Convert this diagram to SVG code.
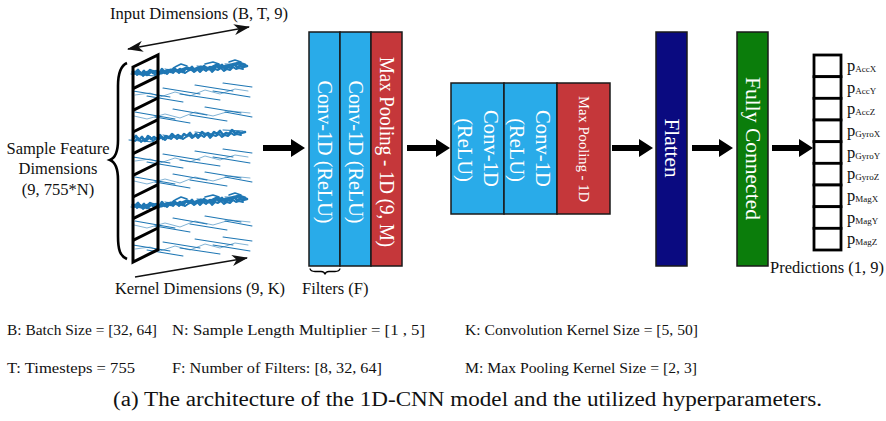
<svg xmlns="http://www.w3.org/2000/svg" xmlns:xlink="http://www.w3.org/1999/xlink" width="886" height="421" viewBox="0 0 886 421">
  <style>
    .lbl { font-family: "Liberation Serif", "DejaVu Serif", serif; fill: #111; }
    .blk { font-family: "Liberation Serif", "DejaVu Serif", serif; fill: #fff; }
    .box { stroke: #1a1a1a; stroke-width: 1.5; }
    .conv { fill: #29abe9; }
    .pool { fill: #c5373a; }
    .sig { fill: none; stroke: #1f77b4; stroke-linecap: round; stroke-linejoin: round; }
    .thin { stroke: #111; stroke-width: 1.5; fill: none; }
    .big { fill: #000; }
    .cell { fill: #fff; stroke: #000; stroke-width: 2.8; }
  </style>
  <defs>
    <marker id="head" viewBox="0 0 16 11" refX="15" refY="5.5" markerWidth="16" markerHeight="11" markerUnits="userSpaceOnUse" orient="auto-start-reverse">
      <path d="M0,0 L16,5.5 L0,11 L4.5,5.5 Z" fill="#111"/>
    </marker>
    <!-- dense sensor trace -->
    <g id="dense" class="sig">
      <path stroke-width="2.6" d="M0,1 L3,-2 L6,2 L9,-1 L12,3 L15,-2 L18,1 L21,-1 L24,2 L27,-3 L30,1 L33,-2 L36,0 L39,-4 L42,-1 L45,-3 L48,0 L51,-4 L54,-2 L57,-5 L60,-1 L63,-4 L66,-2 L69,-6 L72,-3 L75,-5 L78,-2 L81,-6 L84,-4 L87,-7 L90,-3 L93,-5 L96,-4 L99,-8 L102,-5 L105,-6 L108,-5 L112,-6"/>
      <path stroke-width="2" d="M2,3 L5,0 L8,4 L11,1 L14,2 L17,-1 L20,3 L23,0 L26,1 L29,-1 L32,2 L35,-1 L38,1 L41,-2 L44,1 L47,-2 L50,1 L53,-1 L56,-3 L59,0 L62,-3 L65,0 L68,-3 L71,-1 L74,-4 L77,0 L80,-3 L83,-2 L86,-4 L89,-1 L92,-3 L95,-2 L98,-5 L101,-3 L104,-4 L108,-3"/>
      <path stroke-width="1" d="M-4,2 L20,4 M30,-3 L50,1 M62,-6 L80,-4 M90,-8 L110,-7"/>
    </g>
    <!-- heavier variant for the busiest channels -->
    <g id="denseHeavy" class="sig">
      <use xlink:href="#dense"/>
      <path stroke-width="3.2" d="M-2,0 L8,2 L16,-1 L26,1 L36,-2 L44,-1 L52,-4 L58,-2 L66,-5 L74,-3 L82,-7 L88,-5 L96,-7 L104,-9 L110,-7"/>
      <path stroke-width="1.6" d="M40,-5 L46,-8 L52,-6 M70,-8 L78,-10 L84,-8 M94,-10 L100,-12 L106,-10"/>
    </g>
    <!-- sparse sensor traces -->
    <g id="sparseA" class="sig">
      <path stroke-width="1.1" d="M-2,-2 L35,4 M12,3 L48,9 M28,-5 L65,1 M45,1 L85,7 M60,-8 L98,-2 M78,-2 L115,4 M88,-10 L117,-6"/>
      <path stroke-width="0.7" opacity="0.8" d="M0,2 L15,0 L25,4 L40,-1 L55,3 L70,-3 L85,1 L100,-4 L113,-2"/>
    </g>
    <g id="sparseB" class="sig">
      <path stroke-width="1.1" d="M0,-4 L40,3 M20,1 L55,7 M38,-7 L72,-1 M55,-1 L92,5 M70,-9 L106,-3 M90,-4 L117,1"/>
      <path stroke-width="0.7" opacity="0.8" d="M-1,0 L12,3 L30,-2 L45,2 L60,-4 L78,0 L95,-5 L115,-3"/>
    </g>
  </defs>

  <!-- input sample: nine sensor channels -->
  <g id="signals">
    <use xlink:href="#denseHeavy" transform="translate(135,72)"/>
    <use xlink:href="#sparseA" transform="translate(135,93)"/>
    <use xlink:href="#sparseB" transform="translate(135,116)"/>
    <use xlink:href="#dense" transform="translate(133,138)"/>
    <use xlink:href="#sparseA" transform="translate(135,159)"/>
    <use xlink:href="#sparseB" transform="translate(135,181)"/>
    <use xlink:href="#denseHeavy" transform="translate(135,205)"/>
    <use xlink:href="#sparseB" transform="translate(135,225)"/>
    <use xlink:href="#sparseA" transform="translate(135,247)"/>
  </g>

  <!-- sliding kernel window -->
  <g id="kernel" fill="none" stroke="#000" stroke-width="3" stroke-linejoin="miter">
    <path d="M133,67 L158,55 L158,249.7 L133,262 Z"/>
    <path d="M133,88.7 L158,76.4 M133,110.3 L158,98 M133,132 L158,119.7 M133,153.7 L158,141.4 M133,175.3 L158,163 M133,197 L158,184.7 M133,218.7 L158,206.4 M133,240.3 L158,228"/>
  </g>

  <!-- dimension annotations -->
  <g id="annotations">
    <path d="M127,63 C120,66 118,74 118,86 L118,140 C118,152 115,158 110,160 C115,162 118,168 118,180 L118,236 C118,250 120,256 127,259" fill="none" stroke="#000" stroke-width="2.6"/>
    <text class="lbl" x="110" y="19" font-size="16.5" textLength="178" lengthAdjust="spacingAndGlyphs">Input Dimensions (B, T, 9)</text>
    <text class="lbl" x="58" y="153.5" font-size="16.5" text-anchor="middle">Sample Feature</text>
    <text class="lbl" x="58" y="173.5" font-size="16.5" text-anchor="middle">Dimensions</text>
    <text class="lbl" x="58" y="194.5" font-size="16.5" text-anchor="middle">(9, 755*N)</text>
    <text class="lbl" x="115" y="293.5" font-size="16.5" textLength="170" lengthAdjust="spacingAndGlyphs">Kernel Dimensions (9, K)</text>
    <path d="M310,268.5 Q310.5,271.5 315,271.5 L321,271.5 Q324.5,271.5 325,274.5 Q325.5,271.5 329,271.5 L335,271.5 Q339.5,271.5 340,268.5" fill="none" stroke="#000" stroke-width="1.4"/>
    <text class="lbl" x="302" y="293.5" font-size="16.5">Filters (F)</text>
    <text class="lbl" x="770" y="273" font-size="16.5" textLength="114" lengthAdjust="spacingAndGlyphs">Predictions (1, 9)</text>
  </g>

  <!-- connectors -->
  <g id="connectors">
    <line class="thin" x1="128" y1="49" x2="249" y2="27" marker-start="url(#head)" marker-end="url(#head)"/>
    <line class="thin" x1="135" y1="277" x2="247" y2="258" marker-end="url(#head)"/>
    <path class="big" d="M263,145 H291 V139 L305,148 L291,157 V151 H263 Z"/>
    <path class="big" d="M407,145 H436 V139 L450,148 L436,157 V151 H407 Z"/>
    <path class="big" d="M612,145 H639 V139 L653,148 L639,157 V151 H612 Z"/>
    <path class="big" d="M692,145 H719 V139 L733,148 L719,157 V151 H692 Z"/>
    <path class="big" d="M772,145 H799 V139 L813,148 L799,157 V151 H772 Z"/>
  </g>

  <!-- first convolution stage -->
  <g id="stage1">
    <rect class="box conv" x="309" y="32" width="31" height="234"/>
    <rect class="box conv" x="340" y="32" width="31" height="234"/>
    <rect class="box pool" x="371" y="32" width="31" height="234"/>
    <text class="blk" font-size="20.5" text-anchor="middle" dominant-baseline="central" transform="translate(324.5,152) rotate(90)" textLength="143" lengthAdjust="spacingAndGlyphs">Conv-1D (ReLU)</text>
    <text class="blk" font-size="20.5" text-anchor="middle" dominant-baseline="central" transform="translate(355.5,152) rotate(90)" textLength="143" lengthAdjust="spacingAndGlyphs">Conv-1D (ReLU)</text>
    <text class="blk" font-size="20" text-anchor="middle" dominant-baseline="central" transform="translate(386.5,152) rotate(90)" textLength="190" lengthAdjust="spacingAndGlyphs">Max Pooling - 1D (9, M)</text>
  </g>

  <!-- second convolution stage -->
  <g id="stage2">
    <rect class="box conv" x="451" y="83" width="53" height="131"/>
    <rect class="box conv" x="504" y="83" width="53" height="131"/>
    <rect class="box pool" x="557" y="83" width="53" height="131"/>
    <text class="blk" font-size="20.5" text-anchor="middle" dominant-baseline="central" transform="translate(491,148.5) rotate(90)" textLength="77" lengthAdjust="spacingAndGlyphs">Conv-1D</text>
    <text class="blk" font-size="20.5" text-anchor="middle" dominant-baseline="central" transform="translate(465,150) rotate(90)">(ReLU)</text>
    <text class="blk" font-size="20.5" text-anchor="middle" dominant-baseline="central" transform="translate(543,148.5) rotate(90)" textLength="77" lengthAdjust="spacingAndGlyphs">Conv-1D</text>
    <text class="blk" font-size="20.5" text-anchor="middle" dominant-baseline="central" transform="translate(517,150) rotate(90)">(ReLU)</text>
    <text class="blk" font-size="14.5" text-anchor="middle" dominant-baseline="central" transform="translate(583.5,149) rotate(90)" textLength="106" lengthAdjust="spacingAndGlyphs">Max Pooling - 1D</text>
  </g>

  <g id="flatten">
    <rect class="box" x="656" y="32" width="31" height="234" fill="#0a0a80"/>
    <text class="blk" font-size="21" text-anchor="middle" dominant-baseline="central" transform="translate(671.5,148) rotate(90)" textLength="59" lengthAdjust="spacingAndGlyphs">Flatten</text>
  </g>

  <g id="dense-layer">
    <rect class="box" x="737" y="32" width="31" height="234" fill="#0b7d0b"/>
    <text class="blk" font-size="21" text-anchor="middle" dominant-baseline="central" transform="translate(752.5,148.5) rotate(90)" textLength="143" lengthAdjust="spacingAndGlyphs">Fully Connected</text>
  </g>

  <!-- output vector -->
  <g id="predictions">
    <rect class="cell" x="814" y="55" width="27" height="21.67"/>
    <rect class="cell" x="814" y="76.67" width="27" height="21.67"/>
    <rect class="cell" x="814" y="98.33" width="27" height="21.67"/>
    <rect class="cell" x="814" y="120" width="27" height="21.67"/>
    <rect class="cell" x="814" y="141.67" width="27" height="21.67"/>
    <rect class="cell" x="814" y="163.33" width="27" height="21.67"/>
    <rect class="cell" x="814" y="185" width="27" height="21.67"/>
    <rect class="cell" x="814" y="206.67" width="27" height="21.67"/>
    <rect class="cell" x="814" y="228.33" width="27" height="21.67"/>
    <g class="lbl" font-size="16.5">
      <text x="847" y="71">p<tspan font-size="9" dy="1">AccX</tspan></text>
      <text x="847" y="92.7">p<tspan font-size="9" dy="1">AccY</tspan></text>
      <text x="847" y="114.3">p<tspan font-size="9" dy="1">AccZ</tspan></text>
      <text x="847" y="136">p<tspan font-size="9" dy="1">GyroX</tspan></text>
      <text x="847" y="157.7">p<tspan font-size="9" dy="1">GyroY</tspan></text>
      <text x="847" y="179.3">p<tspan font-size="9" dy="1">GyroZ</tspan></text>
      <text x="847" y="201">p<tspan font-size="9" dy="1">MagX</tspan></text>
      <text x="847" y="222.7">p<tspan font-size="9" dy="1">MagY</tspan></text>
      <text x="847" y="244.3">p<tspan font-size="9" dy="1">MagZ</tspan></text>
    </g>
  </g>

  <!-- hyperparameter legend and caption -->
  <g id="legend" class="lbl" font-size="15.5">
    <text x="7" y="335" textLength="150" lengthAdjust="spacingAndGlyphs">B: Batch Size = [32, 64]</text>
    <text x="172" y="335" textLength="253" lengthAdjust="spacingAndGlyphs">N: Sample Length Multiplier = [1 , 5]</text>
    <text x="465" y="335" textLength="233" lengthAdjust="spacingAndGlyphs">K: Convolution Kernel Size = [5, 50]</text>
    <text x="7" y="373" textLength="128" lengthAdjust="spacingAndGlyphs">T: Timesteps = 755</text>
    <text x="172" y="373" textLength="210" lengthAdjust="spacingAndGlyphs">F: Number of Filters: [8, 32, 64]</text>
    <text x="465" y="373" textLength="232" lengthAdjust="spacingAndGlyphs">M: Max Pooling Kernel Size = [2, 3]</text>
    <text x="113" y="406" font-size="20" textLength="709" lengthAdjust="spacingAndGlyphs">(a) The architecture of the 1D-CNN model and the utilized hyperparameters.</text>
  </g>
</svg>
